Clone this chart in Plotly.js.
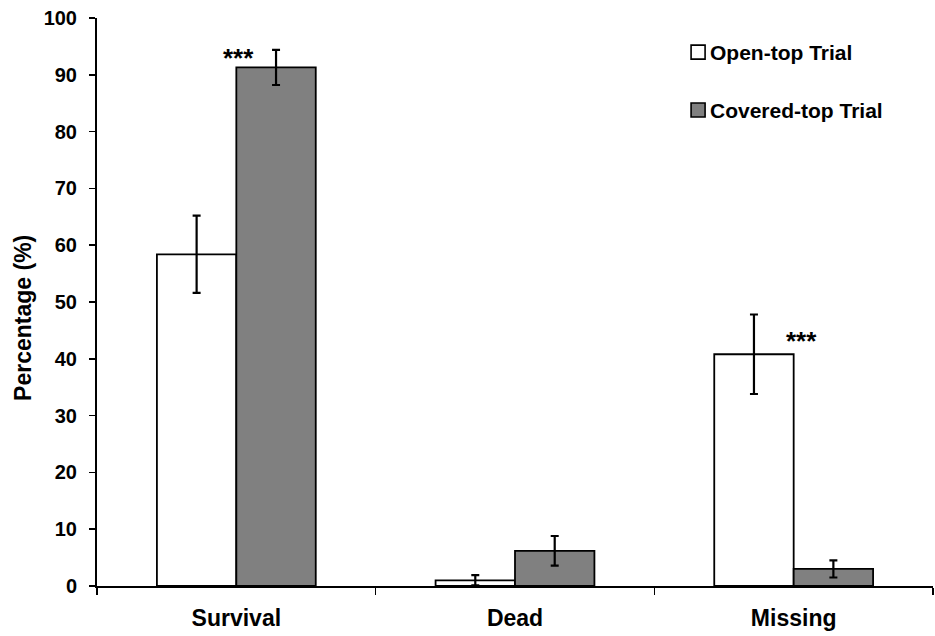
<!DOCTYPE html>
<html><head><meta charset="utf-8">
<script src="https://cdn.plot.ly/plotly-3.0.1.min.js"></script>
<style>body{margin:0;background:#fff}#chart{width:935px;height:636px}</style>
</head><body><div id="chart"></div>
<script>
const categories = ["Survival", "Dead", "Missing"];
const openTop = [58.4, 1.0, 40.8];
const openTopErr = [6.8, 0.9, 7.0];
const coveredTop = [91.3, 6.2, 3.0];
const coveredTopErr = [3.1, 2.6, 1.5];
const seriesNames = ["Open-top Trial", "Covered-top Trial"];
const seriesColors = ["#ffffff", "#808080"];
const yTicks = [0,10,20,30,40,50,60,70,80,90,100];
const sigLabel = "***";

const FF = '"Liberation Sans", Arial, sans-serif';
const errStyle = {type:'data', visible:true, color:'#000', thickness:2.2, width:4};
const traces = [
  {type:'bar', x:categories, y:openTop, name:seriesNames[0],
   marker:{color:seriesColors[0], line:{color:'#000', width:1.8}},
   error_y:Object.assign({array:openTopErr}, errStyle)},
  {type:'bar', x:categories, y:coveredTop, name:seriesNames[1],
   marker:{color:seriesColors[1], line:{color:'#000', width:1.8}},
   error_y:Object.assign({array:coveredTopErr}, errStyle)}
];

// manual legend (square + label), positioned in paper coordinates
const legendRows = [0.940, 0.838];
const legShapes = [], legAnn = [];
seriesNames.forEach((n, i) => {
  legShapes.push({type:'rect', xref:'paper', yref:'paper', xsizemode:'pixel', ysizemode:'pixel',
    xanchor:0.719, yanchor:legendRows[i], x0:-7, x1:7, y0:-7, y1:7,
    fillcolor:seriesColors[i], line:{color:'#000', width:1.6}});
  legAnn.push({xref:'paper', yref:'paper', x:0.7305, y:legendRows[i], xanchor:'left', yanchor:'middle',
    text:'<b>'+n+'</b>', showarrow:false, font:{family:FF, size:21, color:'#000'}});
});

const layout = {
  width:935, height:636,
  margin:{l:97, r:2, t:18, b:50},
  paper_bgcolor:'#fff', plot_bgcolor:'#fff',
  font:{family:FF, color:'#000'},
  barmode:'group', bargap:0.43, bargroupgap:0,
  showlegend:false,
  xaxis:{type:'category', range:[-0.5,2.5], showline:true, linecolor:'#000', linewidth:2,
    ticks:'outside', tickson:'boundaries', ticklen:7, tickwidth:1.5, tickcolor:'#000',
    ticklabelstandoff:10,
    tickfont:{family:FF, size:23, color:'#000', weight:'bold'}, showgrid:false, zeroline:false},
  yaxis:{range:[0,100], tickvals:yTicks, showline:true, linecolor:'#000', linewidth:2,
    ticks:'outside', ticklen:6, tickwidth:1.5, tickcolor:'#000', showgrid:false, zeroline:false,
    ticklabelstandoff:8,
    tickfont:{family:FF, size:20, color:'#000', weight:'bold'}},
  shapes:legShapes,
  annotations:[
    {xref:'paper', yref:'paper', x:-0.0885, y:0.472, textangle:-90, text:'<b>Percentage (%)</b>',
     showarrow:false, xanchor:'center', yanchor:'middle', font:{family:FF, size:23, color:'#000'}},
    {x:categories[0], y:93.0, xref:'x', yref:'y', xshift:2, text:'<b>'+sigLabel+'</b>', showarrow:false,
     font:{family:FF, size:26, color:'#000'}, xanchor:'center', yanchor:'middle'},
    {x:categories[2], y:43.1, xref:'x', yref:'y', xshift:8, text:'<b>'+sigLabel+'</b>', showarrow:false,
     font:{family:FF, size:26, color:'#000'}, xanchor:'center', yanchor:'middle'}
  ].concat(legAnn)
};
Plotly.newPlot('chart', traces, layout, {displayModeBar:false, staticPlot:true});
</script></body></html>
